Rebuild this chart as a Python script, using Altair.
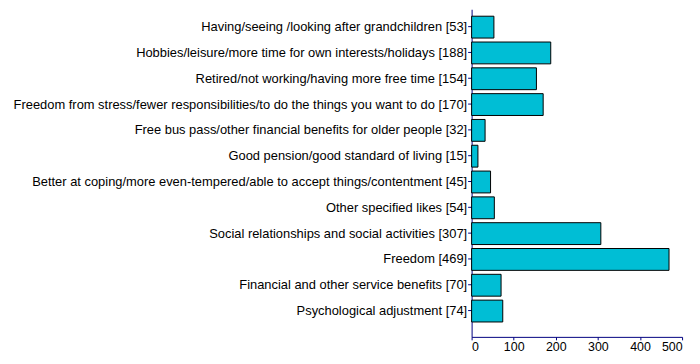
import altair as alt
import pandas as pd

labels = [
    "Having/seeing /looking after grandchildren [53]",
    "Hobbies/leisure/more time for own interests/holidays [188]",
    "Retired/not working/having more free time [154]",
    "Freedom from stress/fewer responsibilities/to do the things you want to do [170]",
    "Free bus pass/other financial benefits for older people [32]",
    "Good pension/good standard of living [15]",
    "Better at coping/more even-tempered/able to accept things/contentment [45]",
    "Other specified likes [54]",
    "Social relationships and social activities [307]",
    "Freedom [469]",
    "Financial and other service benefits [70]",
    "Psychological adjustment [74]",
]
values = [53, 188, 154, 170, 32, 15, 45, 54, 307, 469, 70, 74]
x_ticks = [0, 100, 200, 300, 400, 500]

df = pd.DataFrame({"label": labels, "value": values})

FONT = "Liberation Sans, Arial, sans-serif"
AXIS_COLOR = "#000080"

chart = (
    alt.Chart(df)
    .mark_bar(color="#00BED5", stroke="black", strokeWidth=1)
    .encode(
        x=alt.X(
            "value:Q",
            scale=alt.Scale(domain=[0, 500], nice=False),
            axis=alt.Axis(
                values=x_ticks,
                title=None,
                grid=False,
                domainColor=AXIS_COLOR,
                tickColor=AXIS_COLOR,
                tickSize=3,
                labelFontSize=12.5,
                labelColor="black",
                labelFont=FONT,
                labelPadding=1,
            ),
        ),
        y=alt.Y(
            "label:N",
            sort=labels,
            scale=alt.Scale(paddingInner=4 / 26, paddingOuter=0.423, align=0.318),
            axis=alt.Axis(
                title=None,
                grid=False,
                domainColor=AXIS_COLOR,
                tickColor=AXIS_COLOR,
                tickSize=4,
                labelFontSize=13,
                labelColor="black",
                labelFont=FONT,
                labelPadding=1,
                labelLimit=1000,
            ),
        ),
    )
    .properties(
        width=212,
        height=330,
        autosize=alt.AutoSizeParams(type="none"),
        padding={"left": 467, "top": 0, "right": 10, "bottom": 18},
    )
    .configure_view(stroke=None)
)

chart.save("out.html", embed_options={"renderer": "svg", "actions": False})
